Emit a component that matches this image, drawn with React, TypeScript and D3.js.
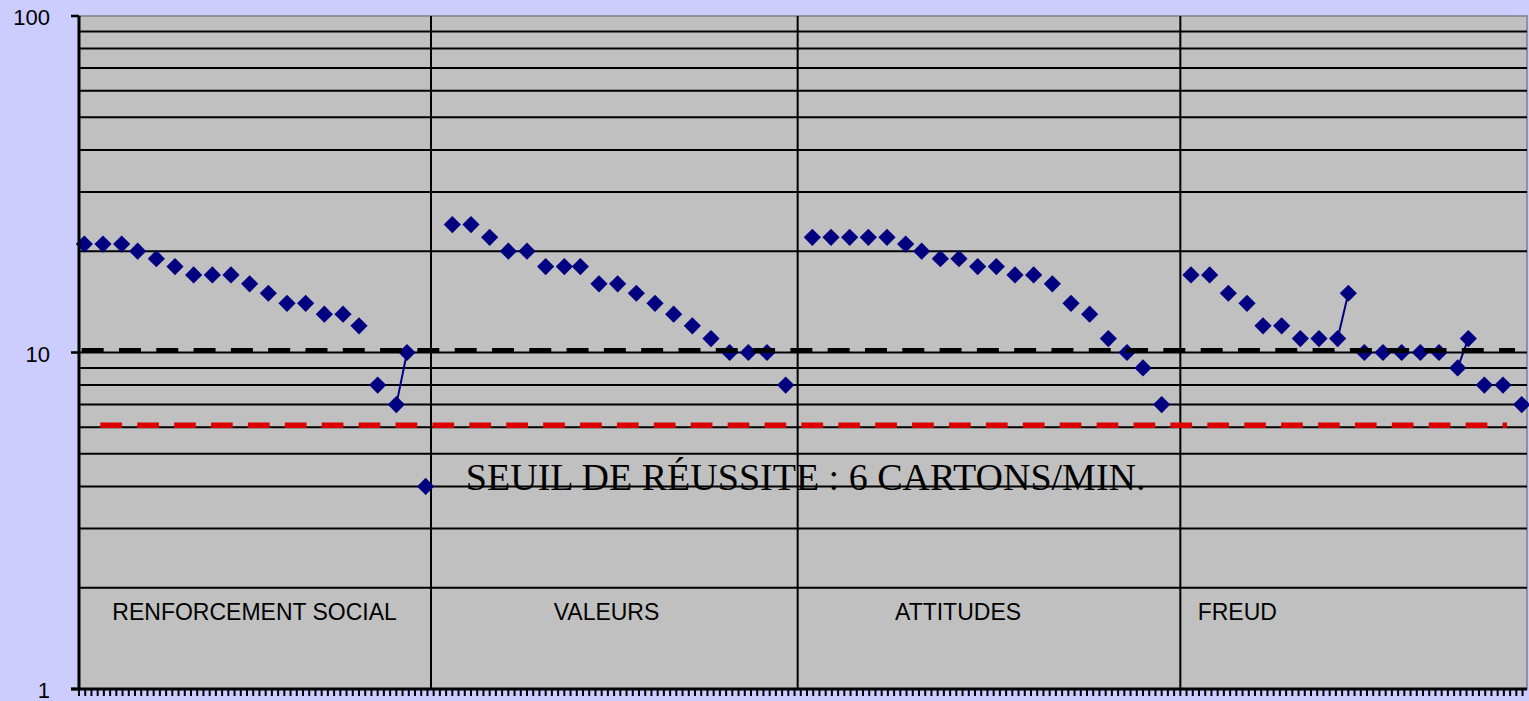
import * as d3 from 'd3';

// days (x units) and rates (cartons / min) per phase
const sec1Days = [2, 9, 16, 22, 29, 36, 43, 50, 57, 64, 71, 78, 85, 92, 99, 105, 112, 119, 123, 130];
const sec1Vals = [21, 21, 21, 20, 19, 18, 17, 17, 17, 16, 15, 14, 14, 13, 13, 12, 8, 7, 10, 4];
const sec2Days = [140, 147, 154, 161, 168, 175, 182, 188, 195, 202, 209, 216, 223, 230, 237, 244, 251, 258, 265];
const sec2Vals = [24, 24, 22, 20, 20, 18, 18, 18, 16, 16, 15, 14, 13, 12, 11, 10, 10, 10, 8];
const sec3Days = [275, 282, 289, 296, 303, 310, 316, 323, 330, 337, 344, 351, 358, 365, 372, 379, 386, 393, 399, 406];
const sec3Vals = [22, 22, 22, 22, 22, 21, 20, 19, 19, 18, 18, 17, 17, 16, 14, 13, 11, 10, 9, 7];
const sec4Days = [417, 424, 431, 438, 444, 451, 458, 465, 472, 476, 482, 489, 496, 503, 510, 517, 521, 527, 534, 541];
const sec4Vals = [17, 17, 15, 14, 12, 12, 11, 11, 11, 15, 10, 10, 10, 10, 10, 9, 11, 8, 8, 7];

// consecutive sessions joined by a line
const linkedDays = [[119, 123], [472, 476], [517, 521]];

const phaseNames = ['RENFORCEMENT SOCIAL', 'VALEURS', 'ATTITUDES', 'FREUD'];
const phaseLabelDays = [12.5, 178, 306, 419.5];
const phaseDividers = [132, 269.5, 413];

const yTickLabels = ['1', '10', '100'];
const aimRate = 10;
const seuilRate = 6;
const seuilText = 'SEUIL DE RÉUSSITE : 6 CARTONS/MIN.';

const W = 1529, H = 701;
const left = 79, right = 1527, top = 16, bottom = 689;
const dayMax = 543;

const App = () => {
  const x = d3.scaleLinear().domain([0, dayMax]).range([left, right]);
  const y = d3.scaleLog().domain([1, 100]).range([bottom, top]);

  const points = [
    ...sec1Days.map((d, i) => ({ day: d, v: sec1Vals[i] })),
    ...sec2Days.map((d, i) => ({ day: d, v: sec2Vals[i] })),
    ...sec3Days.map((d, i) => ({ day: d, v: sec3Vals[i] })),
    ...sec4Days.map((d, i) => ({ day: d, v: sec4Vals[i] })),
  ];
  const valueAt = (day: number) => points.find((p) => p.day === day)!.v;

  const gridVals = [2, 3, 4, 5, 6, 7, 8, 9, 10, 20, 30, 40, 50, 60, 70, 80, 90];
  const xTicks = d3.range(0, dayMax, 7 / 3);
  const diamond = d3.symbol(d3.symbolSquare, 148)()!;
  const line = d3.line<{ day: number; v: number }>().x((d) => x(d.day)).y((d) => y(d.v));

  return (
    <div style={{ position: 'absolute', left: 0, top: 0 }}>
      <svg width={W} height={H} style={{ display: 'block' }}>
        <rect width={W} height={H} fill="#ccccff" />
        <rect x={left} y={top} width={right - left} height={bottom - top} fill="#c0c0c0" stroke="#808080" strokeWidth={1.5} />

        {gridVals.map((v) => (
          <line key={v} x1={left} x2={right} y1={y(v)} y2={y(v)} stroke="#000" strokeWidth={2} />
        ))}

        {phaseDividers.map((d) => (
          <line key={d} x1={x(d)} x2={x(d)} y1={top} y2={bottom} stroke="#000" strokeWidth={2} />
        ))}

        {phaseNames.map((n, i) => (
          <text key={n} x={x(phaseLabelDays[i])} y={y(1.6)} fontFamily="Liberation Sans, Arial, sans-serif" fontSize={23} fill="#000">
            {n}
          </text>
        ))}

        <text x={x(272.5)} y={y(3.9)} textAnchor="middle" fontFamily="Liberation Serif, Times New Roman, serif" fontSize={38} fill="#000">
          {seuilText}
        </text>

        {linkedDays.map(([a, b]) => (
          <path key={a} d={line([{ day: a, v: valueAt(a) }, { day: b, v: valueAt(b) }])!} stroke="#000080" strokeWidth={2} fill="none" />
        ))}

        {points.map((p) => (
          <path key={p.day} d={diamond} transform={`translate(${x(p.day)},${y(p.v)}) rotate(45)`} fill="#000080" />
        ))}

        <line x1={x(1)} x2={x(538.5)} y1={y(aimRate) - 2} y2={y(aimRate) - 2} stroke="#000" strokeWidth={5} strokeDasharray="22 15.3" />
        <line x1={x(8)} x2={x(535.5)} y1={y(seuilRate) - 2} y2={y(seuilRate) - 2} stroke="#dd0000" strokeWidth={5.5} strokeDasharray="21.7 15.2" />

        {/* axes */}
        <line x1={left} x2={left} y1={top} y2={bottom} stroke="#000" strokeWidth={3} />
        <line x1={left - 8} x2={right} y1={bottom} y2={bottom} stroke="#000" strokeWidth={3} />
        {xTicks.map((t) => (
          <line key={t} x1={x(t)} x2={x(t)} y1={bottom} y2={bottom + 7} stroke="#000" strokeWidth={2} />
        ))}
        {yTickLabels.map((l) => (
          <g key={l} transform={`translate(0,${y(+l)})`}>
            <line x1={left - 8} x2={left} stroke="#000" strokeWidth={2.5} />
            <text x={50} dy="0.42em" textAnchor="end" fontFamily="Liberation Sans, Arial, sans-serif" fontSize={22} fill="#000">
              {l}
            </text>
          </g>
        ))}
      </svg>
    </div>
  );
};

export default App;
